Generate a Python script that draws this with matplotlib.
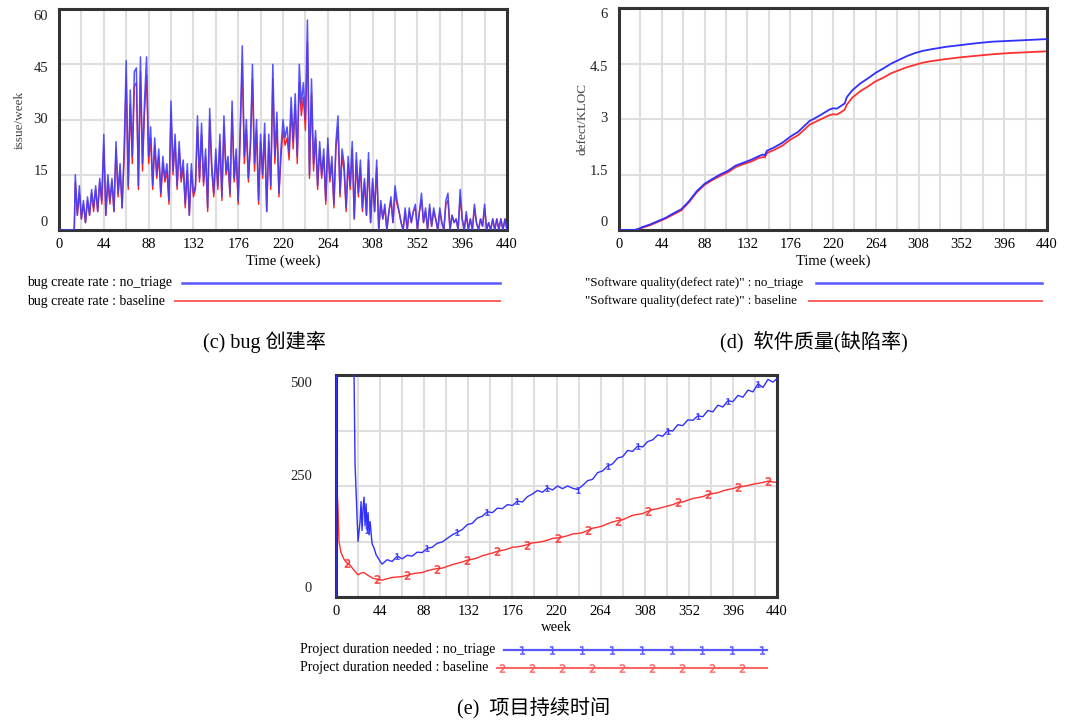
import numpy as np
import matplotlib
matplotlib.use("Agg")
import matplotlib.pyplot as plt
from matplotlib.lines import Line2D

plt.rcParams['font.family'] = ['Liberation Serif', 'Noto Sans CJK SC', 'DejaVu Sans']

# ---------------- data ----------------
# (c) bug create rate, weeks 16..440 step 2 (zero before week 16)
bug_start_week = 16
bug_no_triage = [15,4,12,3,8,2,9,4,11,6,
                 12,5,14,8,26,4,15,8,14,5,
                 24,10,18,6,22,46,12,38,20,43,
                 44,12,47,18,35,47,20,28,12,25,
                 15,22,10,20,14,18,8,35,16,26,
                 12,24,14,19,7,18,4,18,10,12,
                 31,14,29,13,22,6,33,18,10,22,
                 12,26,9,31,16,20,10,35,14,22,
                 8,28,50,20,30,14,24,45,18,30,
                 8,26,15,29,5,26,12,45,20,32,
                 10,22,30,25,28,21,36,24,37,20,
                 45,34,40,30,57,15,41,18,27,12,
                 24,15,22,8,25,14,20,7,24,31,
                 10,22,18,6,20,12,24,3,21,10,
                 19,6,14,4,21,2,14,5,19,0,
                 8,3,7,0,5,9,2,12,8,5,
                 2,0,6,0,6,2,5,7,0,5,
                 10,2,6,0,7,1,6,3,0,6,
                 2,0,8,10,0,4,2,3,0,11,
                 3,0,5,0,3,0,7,2,0,3,
                 1,7,0,2,0,3,0,3,0,3,
                 0,3,0]
bug_baseline = [13,4,10,3,7,2,8,4,10,5,
                11,5,13,7,23,4,13,7,13,5,
                22,9,16,6,20,41,11,34,18,39,
                40,11,43,16,32,42,18,25,11,23,
                14,20,9,18,13,16,7,32,15,24,
                11,22,13,17,6,16,4,16,9,11,
                28,13,26,12,20,5,30,16,9,20,
                11,24,8,28,15,18,9,32,13,20,
                7,26,45,18,27,13,22,41,16,27,
                7,24,14,26,5,24,11,41,18,29,
                9,20,27,23,25,19,33,22,34,18,
                40,31,36,27,51,14,37,16,25,11,
                22,14,20,7,23,13,18,6,22,28,
                9,20,16,5,18,11,22,3,19,9,
                17,5,13,4,19,2,13,5,17,0,
                7,3,6,0,5,8,2,10,7,5,
                2,0,5,0,5,2,5,6,0,5,
                8,2,5,0,6,1,5,3,0,5,
                2,0,7,8,0,4,2,3,0,9,
                3,0,4,0,3,0,6,2,0,3,
                1,6,0,2,0,3,0,3,0,3,
                0,3,0]

# (d) software quality (defect rate)
q_weeks = [0,8,16,20,24,32,40,48,56,64,72,80,88,96,104,112,120,128,136,144,148,150,152,
           160,168,176,184,192,196,200,208,216,220,224,228,232,234,236,240,248,256,264,
           272,280,288,296,304,312,320,336,352,368,384,400,416,440]
q_no_triage = [0,0,0,0.03,0.08,0.15,0.24,0.33,0.45,0.56,0.78,1.05,1.25,1.38,1.5,1.6,1.74,1.82,
               1.9,2.0,2.04,2.02,2.14,2.24,2.36,2.52,2.65,2.85,2.95,3.0,3.12,3.25,3.29,3.28,3.35,
               3.42,3.58,3.65,3.78,3.96,4.1,4.25,4.37,4.5,4.6,4.7,4.78,4.84,4.88,4.95,5.0,5.05,
               5.09,5.11,5.13,5.16]
q_baseline = [0,0,0,0.02,0.06,0.13,0.22,0.31,0.42,0.53,0.75,1.02,1.22,1.35,1.46,1.56,1.7,1.78,
              1.85,1.95,1.97,1.96,2.08,2.17,2.28,2.44,2.56,2.75,2.85,2.9,3.0,3.1,3.13,3.12,3.18,
              3.25,3.38,3.45,3.58,3.75,3.88,4.02,4.12,4.24,4.32,4.4,4.46,4.52,4.56,4.62,4.67,4.71,
              4.75,4.78,4.8,4.83]

# (e) project duration needed
dur_nt_weeks = [0,1,16,17,19,21,22,24,25,26,27,28,29,30,31,32,33,34,36,38,40,42,44] + list(range(46, 437, 5)) + [440]
dur_no_triage = [0,1500,1500,700,300,180,125,170,215,150,200,225,160,210,150,190,140,170,120,110,95,88,80,
                 74,84,80,92,86,94,92,101,100,110,112,121,124,132,140,146,152,163,166,178,182,192,190,
                 200,199,208,206,216,214,226,232,240,236,246,241,250,244,250,245,242,251,262,265,280,
                 284,295,300,313,316,330,328,340,338,350,354,365,362,375,374,388,386,399,398,408,406,
                 420,417,432,428,442,440,454,450,466,462,480,472,490,484,492]
dur_bl_weeks = [1,2,3,5,8,11,14,17,20,22,25,28,31,34,37] + list(range(41, 437, 5)) + [440]
dur_baseline = [245,200,125,100,85,76,72,63,55,50,54,55,50,46,42,
                40,38,41,44,45,46,49,52,54,55,59,62,64,65,69,73,76,79,83,85,88,93,96,99,103,
                105,108,112,113,115,118,122,123,125,128,132,133,135,138,142,143,145,150,155,157,
                160,165,169,172,174,179,184,186,188,193,197,199,202,205,208,213,214,218,222,224,
                226,231,233,235,239,242,244,248,249,251,254,256,258,261,259,258]

x_ticks = list(range(0, 441, 44))

# ---------------- figure ----------------
W, H = 1075, 723
fig = plt.figure(figsize=(W / 100, H / 100), dpi=100)
fig.patch.set_facecolor('white')

def px_axes(l, t, r, b):
    return fig.add_axes([l / W, 1 - b / H, (r - l) / W, (b - t) / H])

BLUE = '#3030ff'
RED = '#ff3030'
GRID = '#dedede'
FS = 10.5

def style(ax, ymax, ytick_vals, ylabels, label_dy_px, label_dx_px):
    ax.set_xlim(0, 440)
    ax.set_ylim(0, ymax)
    ax.set_xticks(x_ticks)
    ax.set_xticklabels([str(v) for v in x_ticks], fontsize=FS)
    ax.set_xticks(range(22, 440, 44), minor=True)
    ax.set_yticks(ytick_vals)
    ax.set_yticklabels([])
    ax.tick_params(which='both', length=0, pad=6)
    ax.grid(True, which='both', axis='x', color=GRID, lw=1.5)
    ax.grid(True, which='major', axis='y', color=GRID, lw=1.5)
    ax.set_axisbelow(True)
    for s in ax.spines.values():
        s.set_linewidth(2.2)
        s.set_color('#333333')
    for v, lab, dy in zip(ytick_vals, ylabels, label_dy_px):
        if lab is None:
            continue
        ax.annotate(lab, xy=(0, v), xycoords=('axes fraction', 'data'),
                    xytext=(-label_dx_px, -dy), textcoords='offset pixels',
                    ha='right', va='center', fontsize=FS, color='#222222')

# ---- (c) ----
axc = px_axes(59, 9, 507, 230)
wk_c = [0, bug_start_week - 1] + [bug_start_week + 2 * i for i in range(len(bug_no_triage))]
axc.plot(wk_c, [0, 0] + bug_baseline, color='#ff2020', lw=1.0, zorder=2)
axc.plot(wk_c, [0, 0] + bug_no_triage, color='#4040ff', lw=1.1, alpha=0.9, zorder=3)
style(axc, 60, [0, 15, 30, 45, 60], ['0', '15', '30', '45', '60'], [-8, -3, 0, 4, 7], 11)
axc.set_xlabel('Time (week)', fontsize=FS, labelpad=2)
axc.set_ylabel('issue/week', fontsize=9.5, color='#444444', labelpad=18)

# ---- (d) ----
axd = px_axes(619, 8, 1047, 230)
axd.plot(q_weeks, q_baseline, color=RED, lw=1.3, zorder=2)
axd.plot(q_weeks, q_no_triage, color=BLUE, lw=1.3, zorder=3)
style(axd, 6, [0, 1.5, 3, 4.5, 6], ['0', '1.5', '3', '4.5', '6'], [-8, -3, 0, 4, 7], 11)
axd.set_xlabel('Time (week)', fontsize=FS, labelpad=2)
axd.set_ylabel('defect/KLOC', fontsize=9.5, color='#444444', labelpad=16)

# ---- (e) ----
axe = px_axes(336, 375, 777, 597)
nt_mark = [i for i, w in enumerate(dur_nt_weeks) if (w - 1) % 30 == 0 and 20 < w]
bl_mark = [i for i, w in enumerate(dur_bl_weeks) if (w - 11) % 30 == 0]
axe.plot(dur_bl_weeks, dur_baseline, color=RED, lw=1.0, zorder=2,
         marker='$2$', markevery=bl_mark, markersize=6, markeredgewidth=0.3)
axe.plot(dur_nt_weeks, dur_no_triage, color=BLUE, lw=1.0, zorder=3,
         marker='$1$', markevery=nt_mark, markersize=4.5, markeredgewidth=0.3)
style(axe, 500, [0, 125, 250, 375, 500], ['0', None, '250', None, '500'], [-9, 0, -9, 0, 9], 24)
axe.set_xlabel('week', fontsize=FS, labelpad=2)

# ---------------- legends (figure-pixel coordinates) ----------------
def ftxt(x, y, s, **kw):
    fig.text(x / W, 1 - y / H, s, va='center', fontsize=kw.pop('fontsize', 10), **kw)

def fline(x0, x1, y, color, lw, xs_mark=None, mark=None):
    if xs_mark:
        xs = [x0] + xs_mark + [x1]
        ln = Line2D([x / W for x in xs], [1 - y / H] * len(xs), transform=fig.transFigure,
                    color=color, lw=lw, marker=mark, markersize=6, markeredgewidth=0.3,
                    markevery=list(range(1, len(xs) - 1)))
    else:
        ln = Line2D([x0 / W, x1 / W], [1 - y / H] * 2, transform=fig.transFigure, color=color, lw=lw)
    fig.add_artist(ln)

LB = '#5858ff'
LR = '#ff6060'
ftxt(27, 283, 'bug create rate : no_triage')
fline(182, 500, 283, LB, 1.8)
ftxt(27, 301, 'bug create rate : baseline')
fline(175, 500, 301, LR, 1.4)

ftxt(585, 283, '"Software quality(defect rate)" : no_triage', fontsize=9.4)
fline(816, 1042, 283, LB, 1.8)
ftxt(585, 301, '"Software quality(defect rate)" : baseline', fontsize=9.4)
fline(809, 1042, 301, LR, 1.4)

ftxt(300, 650, 'Project duration needed : no_triage')
fline(504, 767, 650, LB, 1.6, [522 + 30 * k for k in range(9)], '$1$')
ftxt(300, 667, 'Project duration needed : baseline')
fline(497, 767, 668, LR, 1.4, [502 + 30 * k for k in range(9)], '$2$')

# ---------------- captions ----------------
ftxt(203, 342, '(c) bug 创建率', fontsize=14.5)
ftxt(720, 342, '(d)  软件质量(缺陷率)', fontsize=14.5)
ftxt(457, 709, '(e)  项目持续时间', fontsize=14.5)

fig.savefig('out.png', dpi=100, facecolor='white')
